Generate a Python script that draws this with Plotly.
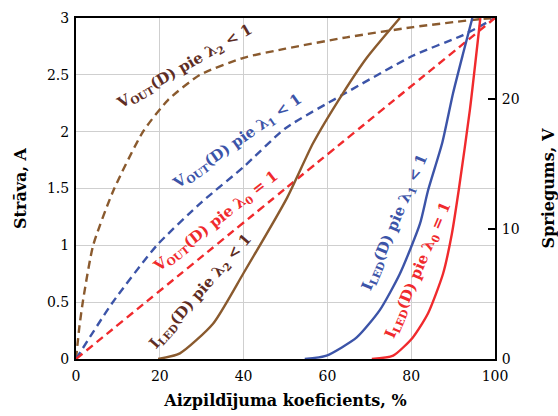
import plotly.graph_objects as go

# Duty cycle (%) and current (A) values
vout_l2_x = [0, 0.8, 1.7, 4.1, 8.9, 16, 22, 29.6, 40, 50, 64.6, 80.5, 96.4, 100]
vout_l2_y = [0, 0.28, 0.52, 1.0, 1.48, 2.0, 2.28, 2.5, 2.65, 2.73, 2.83, 2.92, 2.99, 3.0]

vout_l1_x = [0, 8.6, 19.3, 30, 40, 50, 63.4, 80.5, 92.4, 100]
vout_l1_y = [0, 0.49, 1.0, 1.38, 1.69, 2.03, 2.32, 2.67, 2.85, 3.0]

vout_l0_x = [0, 50, 100]
vout_l0_y = [0, 1.5, 3.0]

iled_l2_x = [19.6, 24.8, 32.7, 39.9, 50.4, 56.6, 63.4, 69.4, 77.3]
iled_l2_y = [0, 0.05, 0.31, 0.75, 1.42, 1.9, 2.32, 2.65, 3.0]

iled_l1_x = [54.6, 59.8, 67, 72.5, 77.3, 82.1, 84, 87.4, 90, 92.4, 94.6]
iled_l1_y = [0, 0.03, 0.19, 0.43, 0.75, 1.19, 1.48, 1.9, 2.34, 2.69, 3.0]

iled_l0_x = [70.6, 75.7, 80.4, 84, 87.6, 89.7, 91.4, 94, 96.5]
iled_l0_y = [0, 0.03, 0.19, 0.4, 0.75, 1.1, 1.5, 2.19, 3.0]

x_ticks = [0, 20, 40, 60, 80, 100]
y_ticks = [0, 0.5, 1, 1.5, 2, 2.5, 3]
y2_ticks = [0, 10, 20]

BROWN = "#8a5a2e"
BROWN_TXT = "#5e2d24"
BLUE = "#3c54a8"
RED = "#f02a2d"
FONT = "DejaVu Serif"

fig = go.Figure()
for xs, ys, c, d in [
    (vout_l2_x, vout_l2_y, BROWN, "8px,5px"),
    (vout_l1_x, vout_l1_y, BLUE, "8px,5px"),
    (vout_l0_x, vout_l0_y, RED, "8px,5px"),
    (iled_l2_x, iled_l2_y, BROWN, "solid"),
    (iled_l1_x, iled_l1_y, BLUE, "solid"),
    (iled_l0_x, iled_l0_y, RED, "solid"),
]:
    fig.add_trace(go.Scatter(x=xs, y=ys, mode="lines",
                             line=dict(color=c, width=2.4, dash=d, shape="spline", smoothing=0.6),
                             showlegend=False, hoverinfo="skip"))

fig.add_trace(go.Scatter(x=[None], y=[None], yaxis="y2", showlegend=False))

def lab(sub, lam, rel):
    return (f"<b>{sub[0]}<sub>{sub[1:]}</sub>(D) pie λ<sub>{lam}</sub> {rel} 1</b>")

annots = [
    (lab("VOUT", 2, "<"), 26.0, 2.57, -30, BROWN_TXT),
    (lab("VOUT", 1, "<"), 38.6, 1.91, -35, BLUE),
    (lab("VOUT", 0, "="), 33.4, 1.21, -38, RED),
    (lab("ILED", 2, "<"), 29.8, 0.59, -49, BROWN_TXT),
    (lab("ILED", 1, "<"), 76.1, 1.20, -67, BLUE),
    (lab("ILED", 0, "="), 81.6, 0.78, -67, RED),
]
for t, x, y, a, c in annots:
    fig.add_annotation(x=x, y=y, xref="x", yref="y", text=t, textangle=a, showarrow=False,
                       font=dict(family=FONT, size=15, color=c))

fig.update_layout(
    width=558, height=416,
    margin=dict(l=76, r=63, t=18, b=57),
    plot_bgcolor="white", paper_bgcolor="white",
    font=dict(family=FONT, size=14, color="black"),
    xaxis=dict(range=[0, 100], tickvals=x_ticks, ticks="", showgrid=True, gridcolor="#cfcfcf", gridwidth=1,
               showline=True, linecolor="black", linewidth=2, mirror=True, zeroline=False, automargin=False,
               tickfont=dict(family=FONT, size=14), ticklabelstandoff=3,
               title=dict(text="<b>Aizpildījuma koeficients, %</b>", font=dict(family=FONT, size=16), standoff=12)),
    yaxis=dict(range=[0, 3], tickvals=y_ticks, ticks="", showgrid=True, gridcolor="#cfcfcf", gridwidth=1,
               showline=True, linecolor="black", linewidth=2, zeroline=False, automargin=False,
               tickfont=dict(family=FONT, size=14), ticklabelstandoff=2,
               title=dict(text="<b>Strāva, A</b>", font=dict(family=FONT, size=16), standoff=16)),
    yaxis2=dict(range=[0, 26.27], tickvals=y2_ticks, overlaying="y", side="right", ticks="inside", ticklen=7,
                tickwidth=1.5, tickcolor="black", showgrid=False, showline=True, linecolor="black", linewidth=2,
                zeroline=False, automargin=False, tickfont=dict(family=FONT, size=14), ticklabelstandoff=2,
                title=dict(text="<b>Spriegums, V</b>", font=dict(family=FONT, size=16), standoff=26)),
)
fig.write_html("out.html")
